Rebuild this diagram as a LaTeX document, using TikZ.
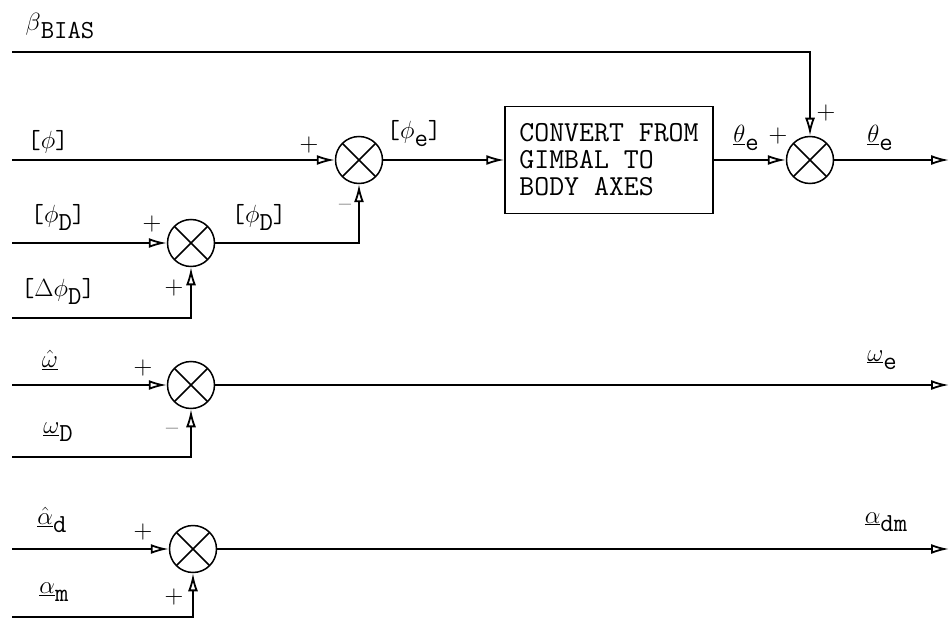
\documentclass[tikz,border=0pt]{standalone}
\usetikzlibrary{arrows.meta}
\newcommand\lowsub[2]{#1\raisebox{-8pt}{#2}}
\begin{document}
\begin{tikzpicture}[x=1pt,y=-1pt,
  line width=1.5pt,
  every node/.style={font=\ttfamily\fontsize{26}{28}\selectfont},
  sumnode/.style={circle,draw,minimum size=47pt,inner sep=0pt,
    path picture={\draw[line width=1.5pt]
      ([shift={(45:24pt)}]path picture bounding box.center) -- ([shift={(225:24pt)}]path picture bounding box.center)
      ([shift={(135:24pt)}]path picture bounding box.center) -- ([shift={(-45:24pt)}]path picture bounding box.center);}},
  sig/.style={-{Latex[open,length=18pt,width=10pt,line width=1.8pt]}},
  lbl/.style={inner sep=0pt},
  sgn/.style={inner sep=0pt,font=\rmfamily\fontsize{26}{26}\selectfont},
  blockbox/.style={draw,minimum width=208pt,minimum height=107pt,align=left,inner sep=0pt,
    font=\ttfamily\fontsize{29}{27}\selectfont}]
\useasboundingbox (0,0) rectangle (952,620);
% summing junctions and block
\node[sumnode] (s1) at (359,160) {};
\node[sumnode] (s2) at (191,243) {};
\node[sumnode] (s3) at (810,160) {};
\node[sumnode] (s4) at (191,385) {};
\node[sumnode] (s5) at (193,549) {};
\node[blockbox] (box) at (609,160) {CONVERT FROM\\GIMBAL TO\\BODY AXES};
% free ends
\coordinate (bias) at (12,52);
\coordinate (in1) at (12,160);
\coordinate (in2) at (12,243);
\coordinate (in3) at (12,318);
\coordinate (in4) at (12,385);
\coordinate (in5) at (12,457);
\coordinate (in6) at (12,549);
\coordinate (in7) at (12,617);
\coordinate (out1) at (949,160);
\coordinate (out2) at (949,385);
\coordinate (out3) at (949,549);
% connectors
\draw[sig] (bias) -| (s3.north);
\draw[sig] (in1) -- (s1.west);
\draw[sig] (in2) -- (s2.west);
\draw[sig] (in3) -| (s2.south);
\draw[sig] (s2.east) -| (s1.south);
\draw[sig] (s1.east) -- (box.west);
\draw[sig] (box.east) -- (s3.west);
\draw[sig] (s3.east) -- (out1);
\draw[sig] (in4) -- (s4.west);
\draw[sig] (in5) -| (s4.south);
\draw[sig] (s4.east) -- (out2);
\draw[sig] (in6) -- (s5.west);
\draw[sig] (in7) -| (s5.south);
\draw[sig] (s5.east) -- (out3);
% labels
\node[lbl] (lbias) at (60,26) {\lowsub{$\beta$}{BIAS}};
\node[lbl] (lphi) at (48,142) {[$\phi$]};
\node[lbl] (lphid) at (58,217) {[\lowsub{$\phi$}{D}]};
\node[lbl] (ldphid) at (58,291) {[$\Delta$\lowsub{$\phi$}{D}]};
\node[lbl] (lphid2) at (259,217) {[\lowsub{$\phi$}{D}]};
\node[lbl] (lphie) at (414,134) {[\lowsub{$\phi$}{e}]};
\node[lbl] (lthe1) at (746,138) {\lowsub{$\underline{\theta}$}{e}};
\node[lbl] (lthe2) at (880,138) {\lowsub{$\underline{\theta}$}{e}};
\node[lbl] (lomh) at (50,360) {$\hat{\underline{\omega}}$};
\node[lbl] (lomd) at (58,432) {\lowsub{$\underline{\omega}$}{D}};
\node[lbl] (lome) at (882,360) {\lowsub{$\underline{\omega}$}{e}};
\node[lbl] (lalh) at (52,520) {\lowsub{$\hat{\underline{\alpha}}$}{d}};
\node[lbl] (lalm) at (54,592) {\lowsub{$\underline{\alpha}$}{m}};
\node[lbl] (lald) at (886,522) {\lowsub{$\underline{\alpha}$}{dm}};
% signs
\node[sgn] (p1) at (309,145) {+};
\node[sgn] (m1) at (345,208) {--};
\node[sgn] (p2) at (152,224) {+};
\node[sgn] (p3) at (174,288) {+};
\node[sgn] (p4) at (778,136) {+};
\node[sgn] (p5) at (826,113) {+};
\node[sgn] (p6) at (143,368) {+};
\node[sgn] (m2) at (172,432) {--};
\node[sgn] (p7) at (143,532) {+};
\node[sgn] (p8) at (174,597) {+};
\end{tikzpicture}
\end{document}
